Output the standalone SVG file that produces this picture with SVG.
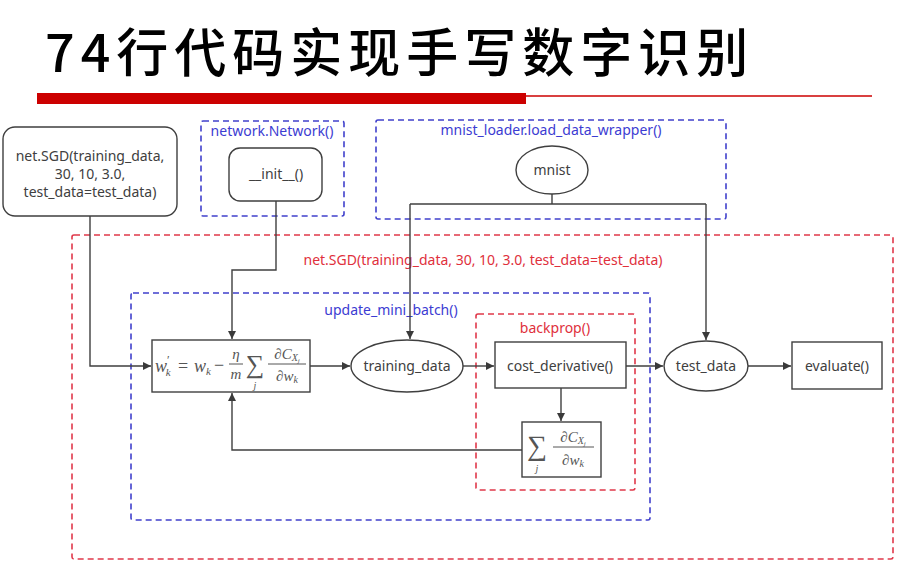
<svg xmlns="http://www.w3.org/2000/svg" width="917" height="574" viewBox="0 0 917 574">
  <defs>
    <marker id="arr" viewBox="0 0 10 10" refX="10" refY="5" markerWidth="9" markerHeight="8" markerUnits="userSpaceOnUse" orient="auto">
      <path d="M0,0 L10,5 L0,10 z" fill="#3a3a3a"/>
    </marker>
  </defs>
  <style>
    .lbl { font-family: "Noto Sans", "Open Sans", sans-serif; font-size: 14px; fill: #404040; text-anchor: middle; }
    .blue { font-family: "Noto Sans", "Open Sans", sans-serif; font-size: 14px; fill: #3c3cd2; text-anchor: middle; }
    .red { font-family: "Noto Sans", "Open Sans", sans-serif; font-size: 14px; fill: #e0303c; text-anchor: middle; }
    .node { fill: #ffffff; stroke: #3f3f3f; stroke-width: 1.4; }
    .dblue { fill: none; stroke: #4040cc; stroke-width: 1.6; stroke-dasharray: 6 4; }
    .dred { fill: none; stroke: #e0384a; stroke-width: 1.6; stroke-dasharray: 6 4; }
    .edge { fill: none; stroke: #3f3f3f; stroke-width: 1.4; }
    .math { font-family: "Liberation Serif", "DejaVu Serif", serif; font-style: italic; fill: #555555; }
    .mathr { font-family: "Liberation Serif", "DejaVu Serif", serif; font-style: normal; fill: #555555; }
    .bar { stroke: #555555; stroke-width: 1; }
  </style>

  <!-- title and rule -->
  <text x="45" y="72" font-family="'Noto Sans CJK SC', sans-serif" font-size="52" font-weight="500" letter-spacing="6" fill="#000000">74行代码实现手写数字识别</text>
  <rect x="37" y="93" width="489" height="11" fill="#cc0000"/>
  <line x1="526" y1="96" x2="872" y2="96" stroke="#cc0000" stroke-width="1.4"/>

  <!-- containers -->
  <g id="sgd-frame">
    <rect class="dred" x="72" y="235" width="821" height="324" rx="2"/>
    <text class="red" x="483" y="265">net.SGD(training_data, 30, 10, 3.0, test_data=test_data)</text>
  </g>
  <g id="network-frame">
    <rect class="dblue" x="201" y="121" width="143" height="95" rx="2"/>
    <text class="blue" x="272" y="136">network.Network()</text>
  </g>
  <g id="loader-frame">
    <rect class="dblue" x="376" y="120" width="350" height="99" rx="2"/>
    <text class="blue" x="551" y="135">mnist_loader.load_data_wrapper()</text>
  </g>
  <g id="update-frame">
    <rect class="dblue" x="131" y="293" width="519" height="227" rx="2"/>
    <text class="blue" x="391" y="315">update_mini_batch()</text>
  </g>
  <g id="backprop-frame">
    <rect class="dred" x="476" y="314" width="159" height="176" rx="2"/>
    <text class="red" x="555" y="333">backprop()</text>
  </g>

  <!-- connectors -->
  <g id="connectors">
    <path class="edge" d="M90,216 V366 H151" marker-end="url(#arr)"/>
    <path class="edge" d="M276,201 V270 H232 V339" marker-end="url(#arr)"/>
    <path class="edge" d="M552,194 V204"/>
    <path class="edge" d="M410,204 H706"/>
    <path class="edge" d="M410,204 V339" marker-end="url(#arr)"/>
    <path class="edge" d="M706,204 V340" marker-end="url(#arr)"/>
    <path class="edge" d="M310,366 H350" marker-end="url(#arr)"/>
    <path class="edge" d="M463,366 H494" marker-end="url(#arr)"/>
    <path class="edge" d="M626,366 H663" marker-end="url(#arr)"/>
    <path class="edge" d="M748,366 H791" marker-end="url(#arr)"/>
    <path class="edge" d="M561,388 V421" marker-end="url(#arr)"/>
    <path class="edge" d="M522,450 H232 V393" marker-end="url(#arr)"/>
  </g>

  <!-- nodes -->
  <g id="sgd-call">
    <rect class="node" x="3" y="127" width="174" height="89" rx="12"/>
    <text class="lbl" x="90" y="161">net.SGD(training_data,</text>
    <text class="lbl" x="90" y="179">30, 10, 3.0,</text>
    <text class="lbl" x="90" y="197">test_data=test_data)</text>
  </g>
  <g id="init">
    <rect class="node" x="229" y="148" width="93" height="53" rx="11"/>
    <text class="lbl" x="276" y="179">__init__()</text>
  </g>
  <g id="mnist">
    <ellipse class="node" cx="552" cy="170" rx="36" ry="24"/>
    <text class="lbl" x="552" y="175">mnist</text>
  </g>
  <g id="weight-update">
    <rect class="node" x="152" y="340" width="158" height="52"/>
    <text class="math" x="155" y="372" font-size="18">w<tspan class="mathr" font-size="12" dy="-8">′</tspan><tspan font-size="11" dx="-4" dy="12">k</tspan></text>
    <text class="mathr" x="178" y="372" font-size="18">=</text>
    <text class="math" x="194" y="372" font-size="18">w<tspan font-size="11" dy="3">k</tspan></text>
    <text class="mathr" x="214" y="371" font-size="18">−</text>
    <text class="math" x="236" y="359" font-size="15" text-anchor="middle">η</text>
    <line class="bar" x1="229" y1="364" x2="243" y2="364"/>
    <text class="math" x="236" y="379" font-size="15" text-anchor="middle">m</text>
    <text class="mathr" x="255" y="373" font-size="26" text-anchor="middle">∑</text>
    <text class="math" x="255" y="389" font-size="10" text-anchor="middle">j</text>
    <text class="math" x="287" y="359" font-size="15" text-anchor="middle"><tspan class="mathr">∂</tspan>C<tspan font-size="10" dy="2">X</tspan><tspan font-size="7" dy="2">j</tspan></text>
    <line class="bar" x1="268" y1="364" x2="306" y2="364"/>
    <text class="math" x="287" y="381" font-size="15" text-anchor="middle"><tspan class="mathr">∂</tspan>w<tspan font-size="10" dy="2">k</tspan></text>
  </g>
  <g id="training-data">
    <ellipse class="node" cx="407" cy="366" rx="56" ry="26"/>
    <text class="lbl" x="407" y="371">training_data</text>
  </g>
  <g id="cost-derivative">
    <rect class="node" x="495" y="342" width="131" height="46"/>
    <text class="lbl" x="560" y="371">cost_derivative()</text>
  </g>
  <g id="gradient-sum">
    <rect class="node" x="522" y="422" width="79" height="55"/>
    <text class="mathr" x="537" y="455" font-size="28" text-anchor="middle">∑</text>
    <text class="math" x="537" y="472" font-size="10" text-anchor="middle">j</text>
    <text class="math" x="573" y="442" font-size="15" text-anchor="middle"><tspan class="mathr">∂</tspan>C<tspan font-size="10" dy="2">X</tspan><tspan font-size="7" dy="2">j</tspan></text>
    <line class="bar" x1="553" y1="447" x2="594" y2="447"/>
    <text class="math" x="573" y="465" font-size="15" text-anchor="middle"><tspan class="mathr">∂</tspan>w<tspan font-size="10" dy="2">k</tspan></text>
  </g>
  <g id="test-data">
    <ellipse class="node" cx="706" cy="366" rx="42" ry="25"/>
    <text class="lbl" x="706" y="371">test_data</text>
  </g>
  <g id="evaluate">
    <rect class="node" x="792" y="342" width="90" height="47"/>
    <text class="lbl" x="837" y="371">evaluate()</text>
  </g>
</svg>
